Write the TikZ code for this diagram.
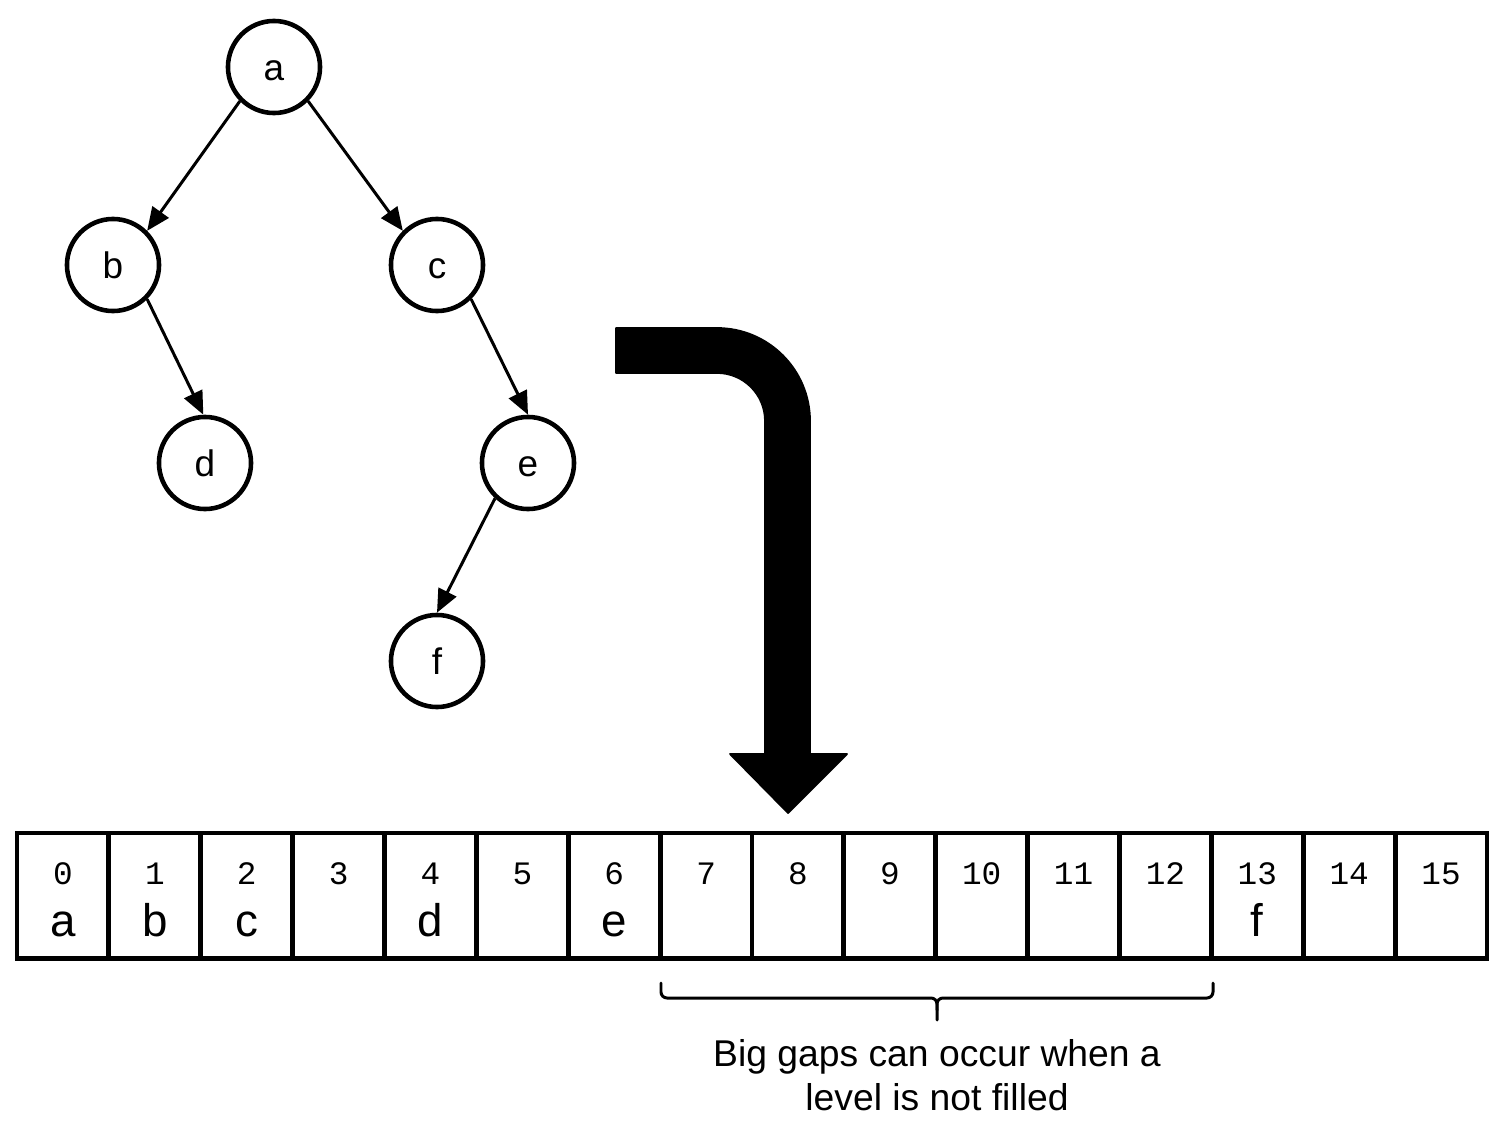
\documentclass[tikz,border=0pt]{standalone}
\usepackage{fontspec}
\setmainfont{Liberation Sans}
\setmonofont{Liberation Mono}
\usetikzlibrary{arrows.meta}
\begin{document}
\begin{tikzpicture}[x=0.01cm,y=0.01cm,
  treenode/.style={circle,draw,line width=1.3pt,minimum size=0.92cm,inner sep=0pt,
    text height=0.75em,text depth=0pt,font=\fontsize{10.5}{12}\selectfont},
  link/.style={line width=0.85pt,-{Triangle[length=6.6pt,width=5.6pt]}},
  cell/.style={draw,line width=1.4pt,minimum width=0.91875cm,minimum height=1.25cm,inner sep=0pt},
  idx/.style={font=\ttfamily\fontsize{9.3}{10}\selectfont},
  val/.style={font=\fontsize{13}{15}\selectfont,anchor=base},
  bracepath/.style={line width=0.85pt,line cap=round},
  caption/.style={align=center,font=\fontsize{10.6}{12.5}\selectfont},
]
\useasboundingbox (0,0) rectangle (1508,-1124);

% binary tree
\node[treenode] (a) at (274,-67) {a};
\node[treenode] (b) at (113,-265) {b};
\node[treenode] (c) at (437,-265) {c};
\node[treenode] (d) at (205,-463) {d};
\node[treenode] (e) at (528,-463) {e};
\node[treenode] (f) at (437,-661) {f};

\draw[link] (a.225) -- (b.45);
\draw[link] (a.-45) -- (c.135);
\draw[link] (b.-45) -- (d.92);
\draw[link] (c.-45) -- (e.north);
\draw[link] (e.227) -- (f.north);

% bent block arrow
\filldraw[line join=round,line width=0.5pt]
  (616,-328) -- (717,-328) arc[start angle=90,end angle=0,radius=0.93cm]
  -- (810,-754) -- (847,-754) -- (788,-813) -- (730,-754) -- (765,-754)
  -- (765,-421) arc[start angle=0,end angle=90,radius=0.48cm]
  -- (616,-373) -- cycle;

% array cells
\foreach \i in {0,...,15} {
  \pgfmathsetmacro\cx{17+91.875*(\i+0.5)}
  \node[cell] (cell\i) at (\cx,-895.5) {};
  \node[idx] (idx\i) at (\cx,-874) {\i};
}
\foreach \i/\t in {0/a,1/b,2/c,4/d,6/e,13/f} {
  \pgfmathsetmacro\cx{17+91.875*(\i+0.5)}
  \node[val] (v\i) at (\cx,-936) {\t};
}

% brace under cells 7-12
\coordinate (bl) at (661,-983);
\coordinate (br) at (1213,-983);
\coordinate (bt) at (937,-1020);
\draw[bracepath] (bl) -- (661,-992) arc[start angle=180,end angle=270,radius=0.06cm]
  -- (931,-998) arc[start angle=90,end angle=0,radius=0.06cm] -- (bt);
\draw[bracepath] (br) -- (1213,-992) arc[start angle=0,end angle=-90,radius=0.06cm]
  -- (943,-998) arc[start angle=90,end angle=180,radius=0.06cm] -- (937,-1010);

\node[caption] (note) at (937,-1075) {Big gaps can occur when a\\level is not filled};
\end{tikzpicture}
\end{document}
